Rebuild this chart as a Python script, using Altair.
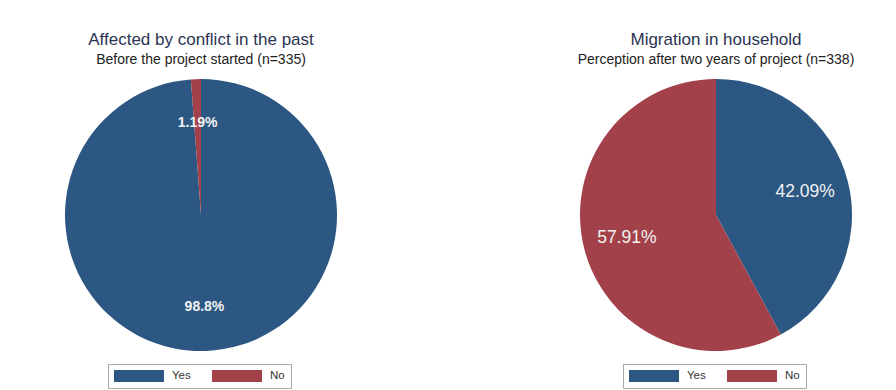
import altair as alt
import pandas as pd

# ---- data ----
categories = ["Yes", "No"]
left_values = [98.8, 1.19]
left_text = ["98.8%", "1.19%"]
right_values = [42.09, 57.91]
right_text = ["42.09%", "57.91%"]

colors = ["#2b5782", "#a3414b"]
FONT = "Liberation Sans"

left_df = pd.DataFrame({"cat": categories, "val": left_values, "txt": left_text, "ord": [0, 1]})
right_df = pd.DataFrame({"cat": categories, "val": right_values, "txt": right_text, "ord": [0, 1]})

RADIUS = 136
LABEL_R = 92
Y0 = 75          # estimated top of plot area
PLOT_H = 2 * (216 - Y0)


def panel(df, width, title, subtitle, legend_x, label_size, label_weight):
    legend = alt.Legend(
        orient="none",
        legendX=legend_x,
        legendY=365 - Y0,
        direction="horizontal",
        title=None,
        symbolType="M-1,-0.24H1V0.24H-1Z",
        symbolSize=2500,
        symbolStrokeWidth=0,
        symbolOpacity=1,
        strokeColor="#a8a8a8",
        padding=6,
        columnPadding=21,
        labelOffset=8,
        labelFontSize=11.5,
        labelFont=FONT,
        labelColor="#333333",
        clipHeight=12,
    )
    base = alt.Chart(df).encode(
        theta=alt.Theta("val:Q", stack=True),
        order=alt.Order("ord:Q"),
    )
    arcs = base.mark_arc(outerRadius=RADIUS).encode(
        color=alt.Color("cat:N", scale=alt.Scale(domain=categories, range=colors), legend=legend)
    )
    text = base.mark_text(radius=LABEL_R, fontSize=label_size, font=FONT,
                          fontWeight=label_weight, color="#f2f2f2").encode(text="txt:N")
    return (arcs + text).properties(
        width=width,
        height=PLOT_H,
        title=alt.TitleParams(
            text=title,
            subtitle=subtitle,
            anchor="middle",
            font=FONT,
            subtitleFont=FONT,
            fontSize=17,
            subtitleFontSize=14,
            fontWeight="normal",
            color="#2b3452",
            subtitleColor="#222222",
            subtitlePadding=4,
            offset=6,
        ),
    )


left = panel(left_df, 402, "Affected by conflict in the past",
             "Before the project started (n=335)", 108, 14, "bold")
right = panel(right_df, 360, "Migration in household",
              "Perception after two years of project (n=338)", 87, 17.5, "normal")

chart = alt.hconcat(left, right, spacing=134).resolve_scale(color="independent").resolve_legend(
    color="independent"
).properties(
    padding={"left": 0, "top": 31, "right": 0, "bottom": 0},
    background="white",
).configure_view(stroke=None)

chart.save("out.html", embed_options={"renderer": "svg", "actions": False})
